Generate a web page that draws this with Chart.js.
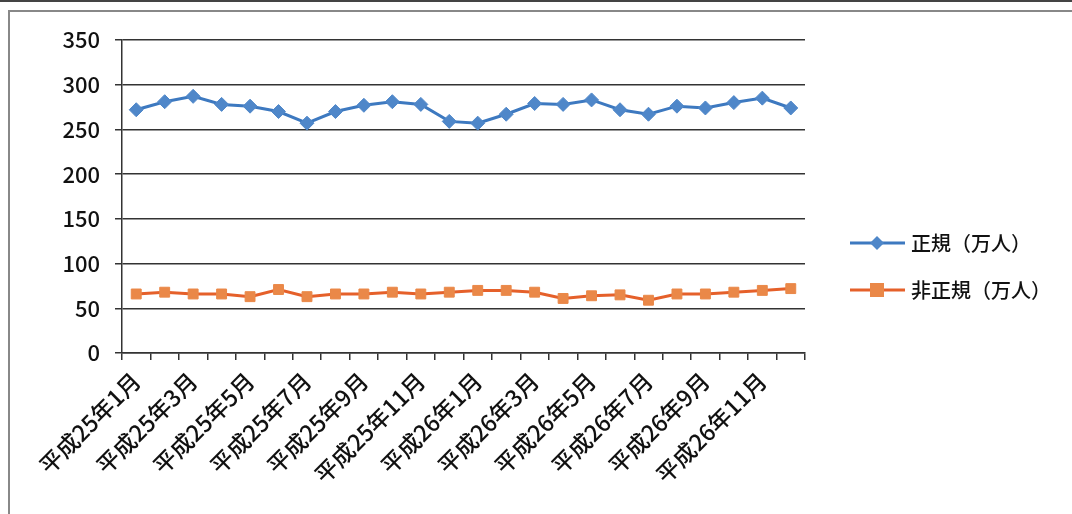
<!DOCTYPE html>
<html>
<head>
<meta charset="utf-8">
<script src="https://cdn.jsdelivr.net/npm/chart.js@4/dist/chart.umd.min.js"></script>
<style>
  body { margin: 0; background: #fff; }
  #wrap { position: relative; width: 1072px; height: 514px; }
  #frame { position: absolute; left: 8px; top: 10px; right: 0; bottom: 0;
           border-left: 2px solid #888; border-top: 2px solid #888; }
  #topline { position: absolute; left: 0; top: 0; width: 1072px; height: 2px; background: #444; }
  canvas { position: absolute; left: 0; top: 0; }
</style>
</head>
<body>
<div id="wrap">
  <div id="topline"></div>
  <div id="frame"></div>
  <canvas id="chart" width="1072" height="514"></canvas>
</div>
<script>
// 月のラベル (平成25年1月〜平成26年12月)
var months = [];
var years = [25, 26];
for (var y = 0; y < years.length; y++) {
    for (var m = 1; m <= 12; m++) {
        months.push("平成" + years[y] + "年" + m + "月");
    }
}

var seikiLabel = "正規（万人）";
var hiseikiLabel = "非正規（万人）";

// 値は図から読み取り
var seiki = [272, 281, 287, 278, 276, 270, 257, 270, 277, 281, 278, 259,
             257, 267, 279, 278, 283, 272, 267, 276, 274, 280, 285, 274];
var hiseiki = [66, 68, 66, 66, 63, 71, 63, 66, 66, 68, 66, 68,
               70, 70, 68, 61, 64, 65, 59, 66, 66, 68, 70, 72];

var yTicks = [0, 50, 100, 150, 200, 250, 300, 350];

var blueLine = '#3d79c0';
var bluePoint = '#4f87c9';
var orangeLine = '#e5602a';
var orangePoint = '#ea8848';
var fontFamily = '"Noto Sans CJK JP", "Noto Sans", sans-serif';

// legend drawn by hand to match the original layout
var legendPlugin = {
    id: 'sideLegend',
    afterDraw: function(chart) {
        var ctx = chart.ctx;
        var items = [
            { text: seikiLabel, line: blueLine, point: bluePoint, style: 'diamond', y: 243 },
            { text: hiseikiLabel, line: orangeLine, point: orangePoint, style: 'square', y: 290 }
        ];
        ctx.save();
        items.forEach(function(it) {
            ctx.strokeStyle = it.line;
            ctx.lineWidth = 3;
            ctx.beginPath();
            ctx.moveTo(850, it.y);
            ctx.lineTo(905, it.y);
            ctx.stroke();
            ctx.fillStyle = it.point;
            if (it.style === 'diamond') {
                ctx.beginPath();
                ctx.moveTo(877, it.y - 7);
                ctx.lineTo(884, it.y);
                ctx.lineTo(877, it.y + 7);
                ctx.lineTo(870, it.y);
                ctx.closePath();
                ctx.fill();
            } else {
                ctx.fillRect(870, it.y - 7, 14, 14);
            }
            ctx.fillStyle = '#111';
            ctx.font = '500 20px ' + fontFamily;
            ctx.textBaseline = 'middle';
            ctx.fillText(it.text, 911, it.y);
        });
        ctx.restore();
    }
};

var ctx = document.getElementById('chart');
var chart = new Chart(ctx, {
    type: 'line',
    data: {
        labels: months,
        datasets: [{
            label: seikiLabel,
            data: seiki,
            borderColor: blueLine,
            backgroundColor: bluePoint,
            borderWidth: 3,
            pointStyle: 'rectRot',
            pointRadius: 7,
            pointBorderWidth: 1,
            pointBorderColor: bluePoint,
            tension: 0
        }, {
            label: hiseikiLabel,
            data: hiseiki,
            borderColor: orangeLine,
            backgroundColor: orangePoint,
            borderWidth: 3,
            pointStyle: 'rect',
            pointRadius: 7,
            pointBorderWidth: 1,
            pointBorderColor: orangePoint,
            tension: 0
        }]
    },
    options: {
        responsive: false,
        animation: false,
        layout: { padding: { left: 0, right: 267, top: 40, bottom: 0 } },
        plugins: {
            legend: { display: false },
            tooltip: { enabled: false }
        },
        scales: {
            x: {
                offset: true,
                grid: {
                    offset: true,
                    drawOnChartArea: false,
                    drawTicks: true,
                    tickLength: 7,
                    color: '#333',
                    lineWidth: 1.5
                },
                border: { color: '#333', width: 1.5 },
                ticks: {
                    autoSkip: false,
                    maxRotation: 45,
                    minRotation: 45,
                    color: '#111',
                    padding: 7,
                    font: { family: fontFamily, size: 23, weight: '500' },
                    callback: function(val, i) {
                        return i % 2 === 0 ? months[i] : '';
                    }
                },
                afterFit: function(scale) { scale.height = 514 - 353; }
            },
            y: {
                min: 0,
                max: 350,
                afterBuildTicks: function(scale) {
                    scale.ticks = yTicks.map(function(v) { return { value: v }; });
                },
                grid: {
                    color: '#333',
                    lineWidth: 1.5,
                    tickLength: 7
                },
                border: { color: '#333', width: 1.5 },
                ticks: {
                    color: '#111',
                    padding: 15,
                    font: { family: fontFamily, size: 22, weight: '500' }
                },
                afterFit: function(scale) { scale.width = 122; }
            }
        }
    },
    plugins: [legendPlugin]
});
</script>
</body>
</html>
